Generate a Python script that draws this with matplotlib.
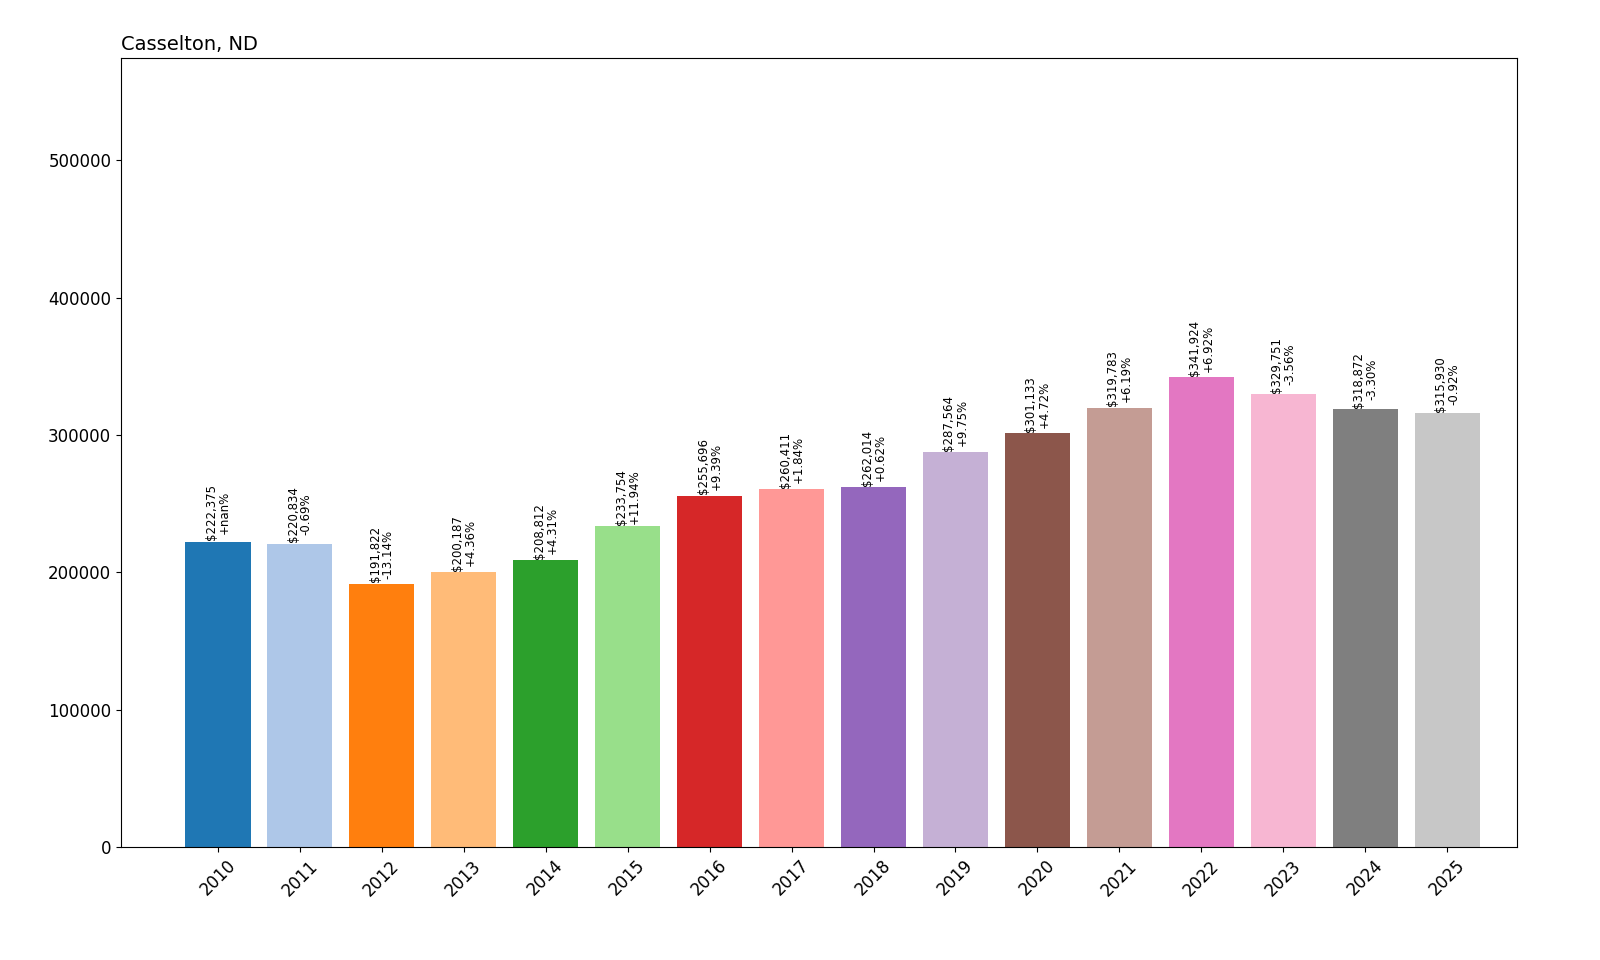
import numpy as np
import matplotlib
matplotlib.use("Agg")
import matplotlib.pyplot as plt

years = [2010, 2011, 2012, 2013, 2014, 2015, 2016, 2017, 2018, 2019, 2020, 2021, 2022, 2023, 2024, 2025]
values = [222375, 220834, 191822, 200187, 208812, 233754, 255696, 260411, 262014, 287564,
          301133, 319783, 341924, 329751, 318872, 315930]
changes = ["+nan%", "-0.69%", "-13.14%", "+4.36%", "+4.31%", "+11.94%", "+9.39%", "+1.84%",
           "+0.62%", "+9.75%", "+4.72%", "+6.19%", "+6.92%", "-3.56%", "-3.30%", "-0.92%"]

colors = plt.cm.tab20(np.arange(len(years)) % 20)

fig = plt.figure(figsize=(16, 9.6), dpi=100)
ax = fig.add_axes([121/1600, 1 - 847/960, (1517-121)/1600, (847-58)/960])
x = np.arange(len(years))
ax.bar(x, values, color=colors)
for xi, v, c in zip(x, values, changes):
    ax.text(xi, v + 1000, f"${v:,}\n{c}", rotation=90, ha="center", va="bottom",
            fontsize=8.5, linespacing=1.0)
ax.set_xticks(x)
ax.set_xticklabels([str(y) for y in years], rotation=45, fontsize=12)
ax.tick_params(axis="y", labelsize=12)
ax.set_ylim(0, max(values) * 1.68)
ax.set_xlim(-1.18, len(years) - 0.15)
ax.set_title("Casselton, ND", loc="left", fontsize=14)
fig.savefig("out.png")
